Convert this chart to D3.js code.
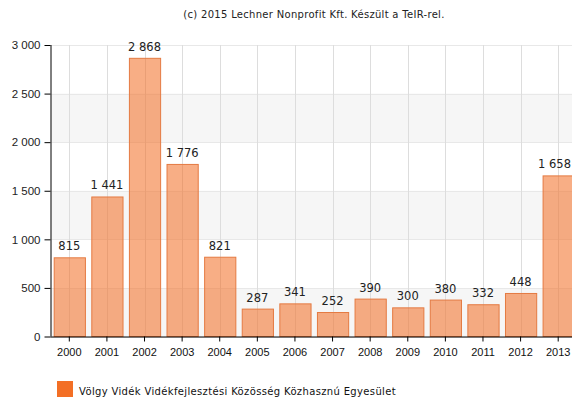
<!DOCTYPE html>
<html><head><meta charset="utf-8">
<script src="https://cdn.jsdelivr.net/npm/d3@7"></script>
<style>body{margin:0;background:#fff;}svg{display:block;font-family:"DejaVu Sans",Verdana,sans-serif;}</style>
</head><body>
<svg id="c" width="572" height="401"></svg>
<script>
const categories = ["2000","2001","2002","2003","2004","2005","2006","2007","2008","2009","2010","2011","2012","2013"];
const values = [815,1441,2868,1776,821,287,341,252,390,300,380,332,448,1658];
const yTicks = [0,500,1000,1500,2000,2500,3000];
const seriesName = "Völgy Vidék Vidékfejlesztési Közösség Közhasznú Egyesület";
const title = "(c) 2015 Lechner Nonprofit Kft. Készült a TeIR-rel.";

const svg = d3.select("#c");
const W = 572;
const m = {left:50.5, top:45, right:577, bottom:336.5};
const fmt = v => d3.format(",")(v).replace(/,/g," ");

const x = d3.scaleBand().domain(categories).range([m.left, m.right]).paddingInner(0.17).paddingOuter(0.085);
const y = d3.scaleLinear().domain([0,3000]).range([m.bottom, m.top]);

// alternating bands
const bands = [[0,500],[1000,1500],[2000,2500]];
svg.selectAll("rect.band").data(bands).enter().append("rect")
  .attr("x", m.left).attr("width", m.right - m.left)
  .attr("y", d => y(d[1])).attr("height", d => y(d[0]) - y(d[1]))
  .attr("fill", "#f6f6f6");

// horizontal grid
svg.selectAll("line.hg").data(yTicks).enter().append("line")
  .attr("x1", m.left).attr("x2", m.right)
  .attr("y1", d => Math.round(y(d))+0.5).attr("y2", d => Math.round(y(d))+0.5)
  .attr("stroke", "#e8e8e8");

// vertical grid at category centers
svg.selectAll("line.vg").data(categories).enter().append("line")
  .attr("x1", d => Math.round(x(d)+x.bandwidth()/2)+0.5).attr("x2", d => Math.round(x(d)+x.bandwidth()/2)+0.5)
  .attr("y1", m.top).attr("y2", m.bottom)
  .attr("stroke", "#dddddd");

// bars
svg.selectAll("rect.bar").data(values).enter().append("rect")
  .attr("x", (d,i) => x(categories[i])+0.5)
  .attr("width", x.bandwidth())
  .attr("y", d => y(d)+0.5)
  .attr("height", d => m.bottom - y(d) - 0.5)
  .attr("fill", "#F36F25").attr("fill-opacity", 0.56)
  .attr("stroke", "#E47A42").attr("stroke-width", 1);

// data labels (kept inside the visible area)
svg.selectAll("text.lbl").data(values).enter().append("text")
  .attr("x", (d,i) => x(categories[i]) + x.bandwidth()/2)
  .attr("y", d => y(d) - 7)
  .attr("text-anchor", "middle")
  .attr("font-size", "11.5px").attr("fill", "#222")
  .text(d => fmt(d))
  .each(function(){
    const bb = this.getBBox();
    if (bb.x + bb.width > W - 1) {
      d3.select(this).attr("x", +d3.select(this).attr("x") - (bb.x + bb.width - (W - 1)));
    }
  });

// y axis
const yAxis = d3.axisLeft(y).tickValues(yTicks).tickSize(6).tickFormat(fmt);
const gy = svg.append("g").attr("transform", `translate(${m.left},0)`).call(yAxis);
gy.select(".domain").attr("stroke", "#000").attr("d", `M0.5,${m.top}V${m.bottom}`);
gy.selectAll(".tick line").attr("stroke", "#000");
gy.selectAll(".tick text").attr("font-size", "11.5px").attr("fill", "#222").attr("x", -10).style("font-family", "inherit");

// x axis
const xAxis = d3.axisBottom(x).tickSize(5).tickSizeOuter(0);
const gx = svg.append("g").attr("transform", `translate(0,${m.bottom})`).call(xAxis);
gx.select(".domain").attr("stroke", "#000").attr("d", `M${m.left},0.5H${m.right}`);
gx.selectAll(".tick line").attr("stroke", "#000");
gx.selectAll(".tick text").attr("font-size", "11px").attr("fill", "#111").attr("y", 12).style("font-family", "inherit");

// title
svg.append("text").attr("x", 314).attr("y", 18).attr("text-anchor", "middle")
  .attr("font-size", "10px").attr("letter-spacing", "0.3px").attr("fill", "#222").text(title);

// legend
svg.append("rect").attr("x", 57).attr("y", 381).attr("width", 16).attr("height", 16).attr("fill", "#F36F25");
svg.append("text").attr("x", 79).attr("y", 395).attr("font-size", "10px").attr("letter-spacing", "0.35px").attr("fill", "#111").text(seriesName);
</script>
</body></html>
